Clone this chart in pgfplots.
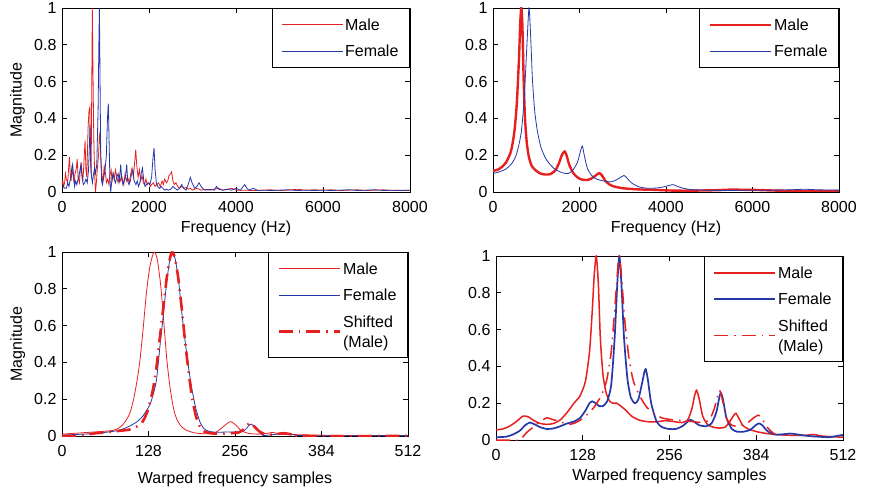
\documentclass[border=0pt]{standalone}
\usepackage{fontspec}
\setmainfont{Liberation Sans}
\usepackage{pgfplots}
\pgfplotsset{compat=1.18}

\definecolor{mred}{RGB}{230,32,30}
\definecolor{mblue}{RGB}{36,56,170}

\pgfplotsset{
  mat/.style={
    scale only axis, height=184pt, anchor=south west,
    ymin=0, ymax=1, ytick={0,0.2,0.4,0.6,0.8,1},
    tick align=inside, xtick pos=both, ytick pos=both,
    major tick length=5pt,
    axis line style={line width=0.9pt, black},
    every tick/.style={black, line width=0.6pt},
    /pgf/number format/assume math mode=true,
    /pgf/number format/1000 sep={},
    scaled x ticks=false,
    xticklabel style={yshift=-4pt},
    every axis y label/.style={at={(axis description cs:-0.128,0.5)}, rotate=90, anchor=center},
    legend style={at={(1,1)}, anchor=north east, draw=black, fill=white, line width=1.1pt,
      inner xsep=9pt, inner ysep=6pt, row sep=6pt, nodes={inner sep=2pt}},
    legend cell align=left,
    legend image code/.code={\draw[##1] (0pt,0pt) -- (61pt,0pt);},
  },
  fft/.style={xmin=0, xmax=8000, xtick={0,2000,4000,6000,8000}},
  warp/.style={xmin=0, xmax=512, xtick={0,128,256,384,512}},
  shifted/.style={color=mred, dash pattern=on 14pt off 6pt on 1.5pt off 6pt},
}

\begin{document}
\fontsize{16}{20}\selectfont
\begin{tikzpicture}
\useasboundingbox (0,0) rectangle (876pt,493pt);

% (a) spectra
\begin{axis}[mat, fft, at={(62pt,301pt)}, width=348pt,
  xlabel={Frequency (Hz)}, ylabel={Magnitude},
  every axis x label/.style={at={(axis description cs:0.5,-0.2)}, anchor=center}]
\addlegendimage{color=mred, line width=0.9pt}
\addlegendentry{\strut Male}
\addlegendimage{color=mblue, line width=0.9pt}
\addlegendentry{\strut Female}
\addplot[color=mred, line width=0.8pt, forget plot] coordinates {
(0,0.04) (20,0.06) (40,0.03) (60,0.05) (80,0.10) (100,0.07) (130,0.05) (150,0.12)
(170,0.19) (190,0.10) (210,0.06) (230,0.13) (260,0.08) (280,0.05) (300,0.10) (330,0.13)
(350,0.18) (370,0.08) (400,0.05) (420,0.12) (440,0.16) (460,0.10) (480,0.06) (500,0.14)
(530,0.28) (550,0.12) (570,0.08) (600,0.35) (620,0.44) (640,0.46) (655,0.20) (670,0.10)
(685,0.60) (697,1.00) (710,0.70) (730,0.30) (750,0.10) (770,0.00) (790,0.05) (810,0.12)
(840,0.20) (860,0.30) (875,0.33) (890,0.20) (910,0.12) (930,0.06) (950,0.08) (970,0.14)
(1000,0.10) (1020,0.05) (1050,0.07) (1080,0.04) (1100,0.09) (1130,0.12) (1150,0.06)
(1180,0.10) (1200,0.07) (1230,0.12) (1260,0.08) (1290,0.05) (1320,0.09) (1350,0.06)
(1380,0.08) (1420,0.04) (1450,0.10) (1480,0.06) (1510,0.08) (1550,0.05) (1580,0.10)
(1610,0.13) (1640,0.08) (1670,0.16) (1695,0.23) (1720,0.14) (1750,0.08) (1780,0.12)
(1810,0.06) (1840,0.09) (1870,0.05) (1900,0.04) (1930,0.07) (1960,0.04) (2000,0.05)
(2030,0.03) (2060,0.04) (2100,0.05) (2140,0.03) (2180,0.04) (2220,0.05) (2260,0.03)
(2300,0.06) (2330,0.04) (2360,0.07) (2400,0.05) (2430,0.06) (2460,0.09) (2500,0.10)
(2520,0.11) (2550,0.06) (2580,0.04) (2620,0.05) (2660,0.03) (2700,0.02) (2750,0.03)
(2800,0.02) (2850,0.025) (2900,0.015) (2950,0.02) (3000,0.01) (3100,0.02) (3200,0.01)
(3300,0.015) (3400,0.01) (3500,0.015) (3600,0.02) (3700,0.01) (3800,0.015) (3900,0.02)
(4000,0.01) (4200,0.01) (4400,0.008) (4600,0.01) (4800,0.012) (5000,0.008) (5200,0.01)
(5400,0.015) (5600,0.01) (5800,0.012) (6000,0.01) (6200,0.012) (6400,0.008) (6600,0.01)
(6800,0.012) (7000,0.008) (7200,0.01) (7400,0.012) (7600,0.008) (7800,0.01) (8000,0.008)
};
\addplot[color=mblue, line width=0.8pt, forget plot] coordinates {
(0,0.02) (30,0.03) (60,0.02) (100,0.02) (130,0.05) (160,0.03) (200,0.08) (220,0.12)
(245,0.15) (270,0.08) (290,0.03) (310,0.06) (340,0.04) (370,0.07) (400,0.10) (437,0.15)
(460,0.08) (490,0.04) (520,0.05) (550,0.07) (580,0.05) (610,0.12) (630,0.25) (644,0.37)
(660,0.15) (680,0.08) (700,0.05) (720,0.09) (750,0.13) (770,0.10) (800,0.15) (830,0.45)
(850,0.85) (860,1.00) (875,0.60) (890,0.20) (910,0.06) (930,0.04) (960,0.08) (990,0.12)
(1020,0.20) (1045,0.40) (1065,0.48) (1085,0.25) (1100,0.08) (1120,0.00) (1140,0.05)
(1170,0.10) (1200,0.07) (1230,0.05) (1260,0.08) (1290,0.10) (1320,0.06) (1350,0.15)
(1370,0.08) (1400,0.04) (1430,0.06) (1460,0.08) (1488,0.15) (1510,0.06) (1540,0.04)
(1570,0.06) (1600,0.10) (1630,0.12) (1660,0.06) (1700,0.04) (1730,0.06) (1760,0.03)
(1790,0.05) (1820,0.10) (1850,0.13) (1880,0.06) (1910,0.03) (1940,0.04) (1980,0.05)
(2020,0.04) (2060,0.08) (2090,0.18) (2116,0.24) (2140,0.12) (2170,0.05) (2200,0.03)
(2240,0.02) (2280,0.03) (2320,0.02) (2360,0.01) (2400,0.015) (2450,0.01) (2500,0.015)
(2550,0.03) (2600,0.02) (2650,0.01) (2700,0.02) (2750,0.04) (2800,0.02) (2850,0.01)
(2900,0.04) (2950,0.08) (2990,0.05) (3050,0.02) (3100,0.03) (3150,0.05) (3200,0.03)
(3250,0.015) (3300,0.01) (3400,0.015) (3500,0.01) (3550,0.03) (3600,0.015) (3700,0.01)
(3800,0.015) (3900,0.01) (4000,0.02) (4100,0.01) (4150,0.025) (4200,0.04) (4250,0.02)
(4300,0.01) (4400,0.02) (4500,0.008) (4600,0.01) (4800,0.008) (5000,0.01) (5200,0.012)
(5400,0.008) (5600,0.01) (5800,0.008) (6000,0.01) (6200,0.008) (6400,0.01) (6600,0.012)
(6800,0.008) (7000,0.01) (7200,0.012) (7400,0.008) (7600,0.01) (7800,0.008) (8000,0.01)
};
\node at (axis description cs:1.049,0.527) {(a)};
\end{axis}

% (b) LPC envelopes
\begin{axis}[mat, fft, at={(493pt,301pt)}, width=346pt,
  xlabel={Frequency (Hz)},
  every axis x label/.style={at={(axis description cs:0.5,-0.2)}, anchor=center}]
\addlegendimage{color=mred, line width=2.4pt}
\addlegendentry{\strut Male}
\addlegendimage{color=mblue, line width=0.9pt}
\addlegendentry{\strut Female}
\addplot[color=mred, line width=2.4pt, smooth, tension=0.4, forget plot] coordinates {
(0,0.115) (100,0.12) (200,0.135) (300,0.16) (400,0.21) (450,0.26) (500,0.34) (550,0.48)
(600,0.72) (630,0.92) (655,1.00) (680,0.90) (710,0.60) (740,0.40) (780,0.27) (830,0.19)
(900,0.14) (1000,0.115) (1100,0.10) (1200,0.095) (1272,0.095) (1350,0.10) (1450,0.12)
(1530,0.16) (1600,0.205) (1657,0.22) (1700,0.20) (1760,0.15) (1850,0.105) (1950,0.08)
(2050,0.068) (2158,0.065) (2250,0.07) (2350,0.085) (2430,0.10) (2466,0.102) (2520,0.09)
(2600,0.06) (2700,0.04) (2800,0.03) (2950,0.022) (3100,0.018) (3300,0.015) (3500,0.013)
(3700,0.012) (3900,0.01) (4100,0.008) (4400,0.007) (4800,0.008) (5200,0.010) (5500,0.013)
(5800,0.012) (6100,0.011) (6500,0.008) (7000,0.006) (7500,0.005) (8000,0.005)
};
\addplot[color=mblue, line width=0.8pt, smooth, tension=0.4, forget plot] coordinates {
(0,0.10) (150,0.11) (300,0.125) (450,0.16) (550,0.21) (650,0.32) (720,0.50) (780,0.78)
(832,1.00) (870,0.85) (910,0.62) (960,0.45) (1020,0.34) (1100,0.25) (1200,0.19)
(1300,0.155) (1400,0.13) (1500,0.115) (1600,0.105) (1734,0.10) (1850,0.12) (1950,0.16)
(2020,0.22) (2066,0.25) (2110,0.20) (2180,0.13) (2280,0.09) (2400,0.07) (2550,0.06)
(2697,0.055) (2800,0.06) (2920,0.075) (3029,0.09) (3100,0.075) (3200,0.05) (3350,0.03)
(3500,0.022) (3622,0.02) (3800,0.022) (3950,0.028) (4080,0.036) (4162,0.04) (4250,0.032)
(4400,0.02) (4600,0.013) (4900,0.01) (5300,0.008) (5700,0.009) (6100,0.01) (6500,0.01)
(6900,0.012) (7200,0.015) (7500,0.012) (8000,0.01)
};
\node at (axis description cs:1.049,0.5) {(b)};
\end{axis}

% (c) warped envelopes
\begin{axis}[mat, warp, at={(62pt,57pt)}, width=346pt,
  xlabel={Warped frequency samples}, ylabel={Magnitude},
  every axis x label/.style={at={(axis description cs:0.5,-0.234)}, anchor=center}]
\addlegendimage{color=mred, line width=0.9pt}
\addlegendentry{\strut Male}
\addlegendimage{color=mblue, line width=0.9pt}
\addlegendentry{\strut Female}
\addlegendimage{shifted, line width=2.6pt}
\addlegendentry{\begin{tabular}[b]{@{}l@{}}Shifted\\(Male)\end{tabular}}
\addplot[color=mred, line width=0.8pt, smooth, tension=0.4, forget plot] coordinates {
(0,0.01) (20,0.015) (40,0.02) (60,0.025) (75,0.03) (85,0.045) (92,0.07) (100,0.12)
(106,0.20) (111,0.30) (115,0.40) (120,0.58) (125,0.78) (130,0.92) (136,1.00) (141,0.96)
(146,0.82) (150,0.65) (155,0.42) (160,0.26) (165,0.15) (170,0.09) (177,0.05) (185,0.03)
(195,0.018) (210,0.012) (225,0.015) (235,0.04) (245,0.07) (250,0.078) (257,0.06)
(265,0.03) (275,0.015) (290,0.01) (305,0.015) (312,0.02) (320,0.012) (340,0.008)
(380,0.005) (420,0.003) (512,0.002)
};
\addplot[color=mblue, line width=0.8pt, smooth, tension=0.4, forget plot] coordinates {
(0,0.005) (20,0.008) (40,0.012) (60,0.018) (80,0.028) (95,0.045) (110,0.075) (120,0.11)
(130,0.17) (136,0.24) (140,0.31) (145,0.49) (150,0.66) (155,0.84) (160,0.97) (163,1.00)
(167,0.97) (172,0.86) (177,0.68) (182,0.52) (187,0.38) (192,0.26) (198,0.15) (204,0.078)
(210,0.04) (218,0.025) (230,0.02) (245,0.022) (260,0.022) (270,0.03) (276,0.055)
(280,0.065) (286,0.045) (292,0.02) (298,0.002) (305,0.005) (320,0.01) (335,0.01)
(345,0.005) (360,0.002) (512,0.002)
};
\addplot[shifted, line width=2.6pt, smooth, tension=0.4, forget plot] coordinates {
(0,0.0) (20,0.0) (30,0.005) (50,0.015) (70,0.022) (90,0.03) (100,0.035) (110,0.05)
(118,0.07) (125,0.12) (130,0.18) (135,0.26) (140,0.38) (145,0.54) (150,0.70) (155,0.86)
(160,0.97) (163,1.00) (167,0.97) (172,0.86) (177,0.70) (182,0.52) (187,0.36) (192,0.22)
(198,0.11) (204,0.05) (210,0.025) (220,0.015) (235,0.012) (250,0.015) (262,0.02)
(270,0.04) (278,0.072) (285,0.05) (292,0.025) (300,0.01) (310,0.008) (320,0.012)
(330,0.015) (340,0.008) (350,0.0) (512,0.0)
};
\node at (axis description cs:1.051,0.505) {(c)};
\end{axis}

% (d) warped envelopes
\begin{axis}[mat, warp, at={(496pt,53pt)}, width=347pt,
  xlabel={Warped frequency samples},
  every axis x label/.style={at={(axis description cs:0.5,-0.2)}, anchor=center}]
\addlegendimage{color=mred, line width=1.6pt}
\addlegendentry{\strut Male}
\addlegendimage{color=mblue, line width=1.8pt}
\addlegendentry{\strut Female}
\addlegendimage{shifted, line width=1.6pt}
\addlegendentry{\begin{tabular}[b]{@{}l@{}}Shifted\\(Male)\end{tabular}}
\addplot[color=mred, line width=1.5pt, smooth, tension=0.4, forget plot] coordinates {
(0,0.055) (10,0.06) (20,0.075) (30,0.10) (40,0.13) (48,0.125) (56,0.105) (65,0.09)
(75,0.085) (85,0.09) (95,0.11) (105,0.15) (115,0.20) (124,0.24) (132,0.32) (138,0.48)
(142,0.70) (145,0.90) (148,1.00) (151,0.85) (154,0.55) (158,0.35) (163,0.25) (168,0.21)
(173,0.20) (178,0.20) (184,0.185) (192,0.16) (200,0.13) (210,0.11) (222,0.10) (235,0.098)
(250,0.105) (262,0.10) (275,0.095) (283,0.11) (289,0.17) (293,0.24) (296,0.27) (300,0.22)
(305,0.13) (312,0.085) (320,0.07) (330,0.065) (338,0.07) (345,0.10) (350,0.13) (354,0.145)
(358,0.12) (364,0.08) (372,0.06) (385,0.045) (400,0.035) (420,0.028) (440,0.025)
(455,0.025) (468,0.03) (480,0.022) (495,0.018) (512,0.015)
};
\addplot[color=mblue, line width=1.7pt, smooth, tension=0.4, forget plot] coordinates {
(0,0.015) (15,0.018) (25,0.03) (35,0.05) (43,0.08) (50,0.095) (57,0.085) (65,0.07)
(75,0.06) (85,0.063) (95,0.075) (105,0.09) (115,0.10) (124,0.12) (132,0.16) (138,0.20)
(142,0.21) (147,0.20) (152,0.185) (158,0.185) (164,0.21) (170,0.30) (175,0.55) (179,0.85)
(182,1.00) (185,0.85) (189,0.55) (194,0.33) (199,0.23) (205,0.20) (210,0.22) (215,0.30)
(219,0.37) (221,0.385) (224,0.33) (229,0.20) (237,0.10) (245,0.07) (255,0.06) (265,0.06)
(275,0.075) (283,0.10) (287,0.11) (292,0.10) (300,0.08) (310,0.075) (318,0.09) (325,0.15)
(330,0.24) (332,0.255) (335,0.22) (340,0.12) (348,0.06) (356,0.045) (365,0.045)
(375,0.055) (383,0.08) (388,0.09) (393,0.08) (400,0.05) (410,0.03) (420,0.03) (434,0.035)
(445,0.03) (460,0.022) (475,0.018) (490,0.015) (500,0.02) (512,0.028)
};
\addplot[shifted, line width=1.5pt, smooth, tension=0.4, forget plot] coordinates {
(0,0.0) (20,0.0) (35,0.0) (45,0.04) (55,0.07) (65,0.10) (75,0.12) (85,0.11) (95,0.10)
(105,0.085) (115,0.09) (125,0.11) (135,0.14) (145,0.18) (155,0.24) (163,0.32) (170,0.48)
(176,0.75) (180,0.95) (182,1.00) (185,0.90) (190,0.65) (196,0.45) (202,0.33) (208,0.27)
(215,0.22) (222,0.18) (232,0.145) (245,0.12) (260,0.11) (275,0.105) (290,0.10)
(305,0.095) (315,0.11) (322,0.17) (327,0.24) (330,0.27) (334,0.22) (340,0.12) (348,0.08)
(358,0.075) (370,0.09) (380,0.12) (387,0.135) (392,0.12) (398,0.08) (405,0.05) (412,0.03)
};
\node at (axis description cs:1.054,0.57) {(d)};
\end{axis}
\end{tikzpicture}
\end{document}
